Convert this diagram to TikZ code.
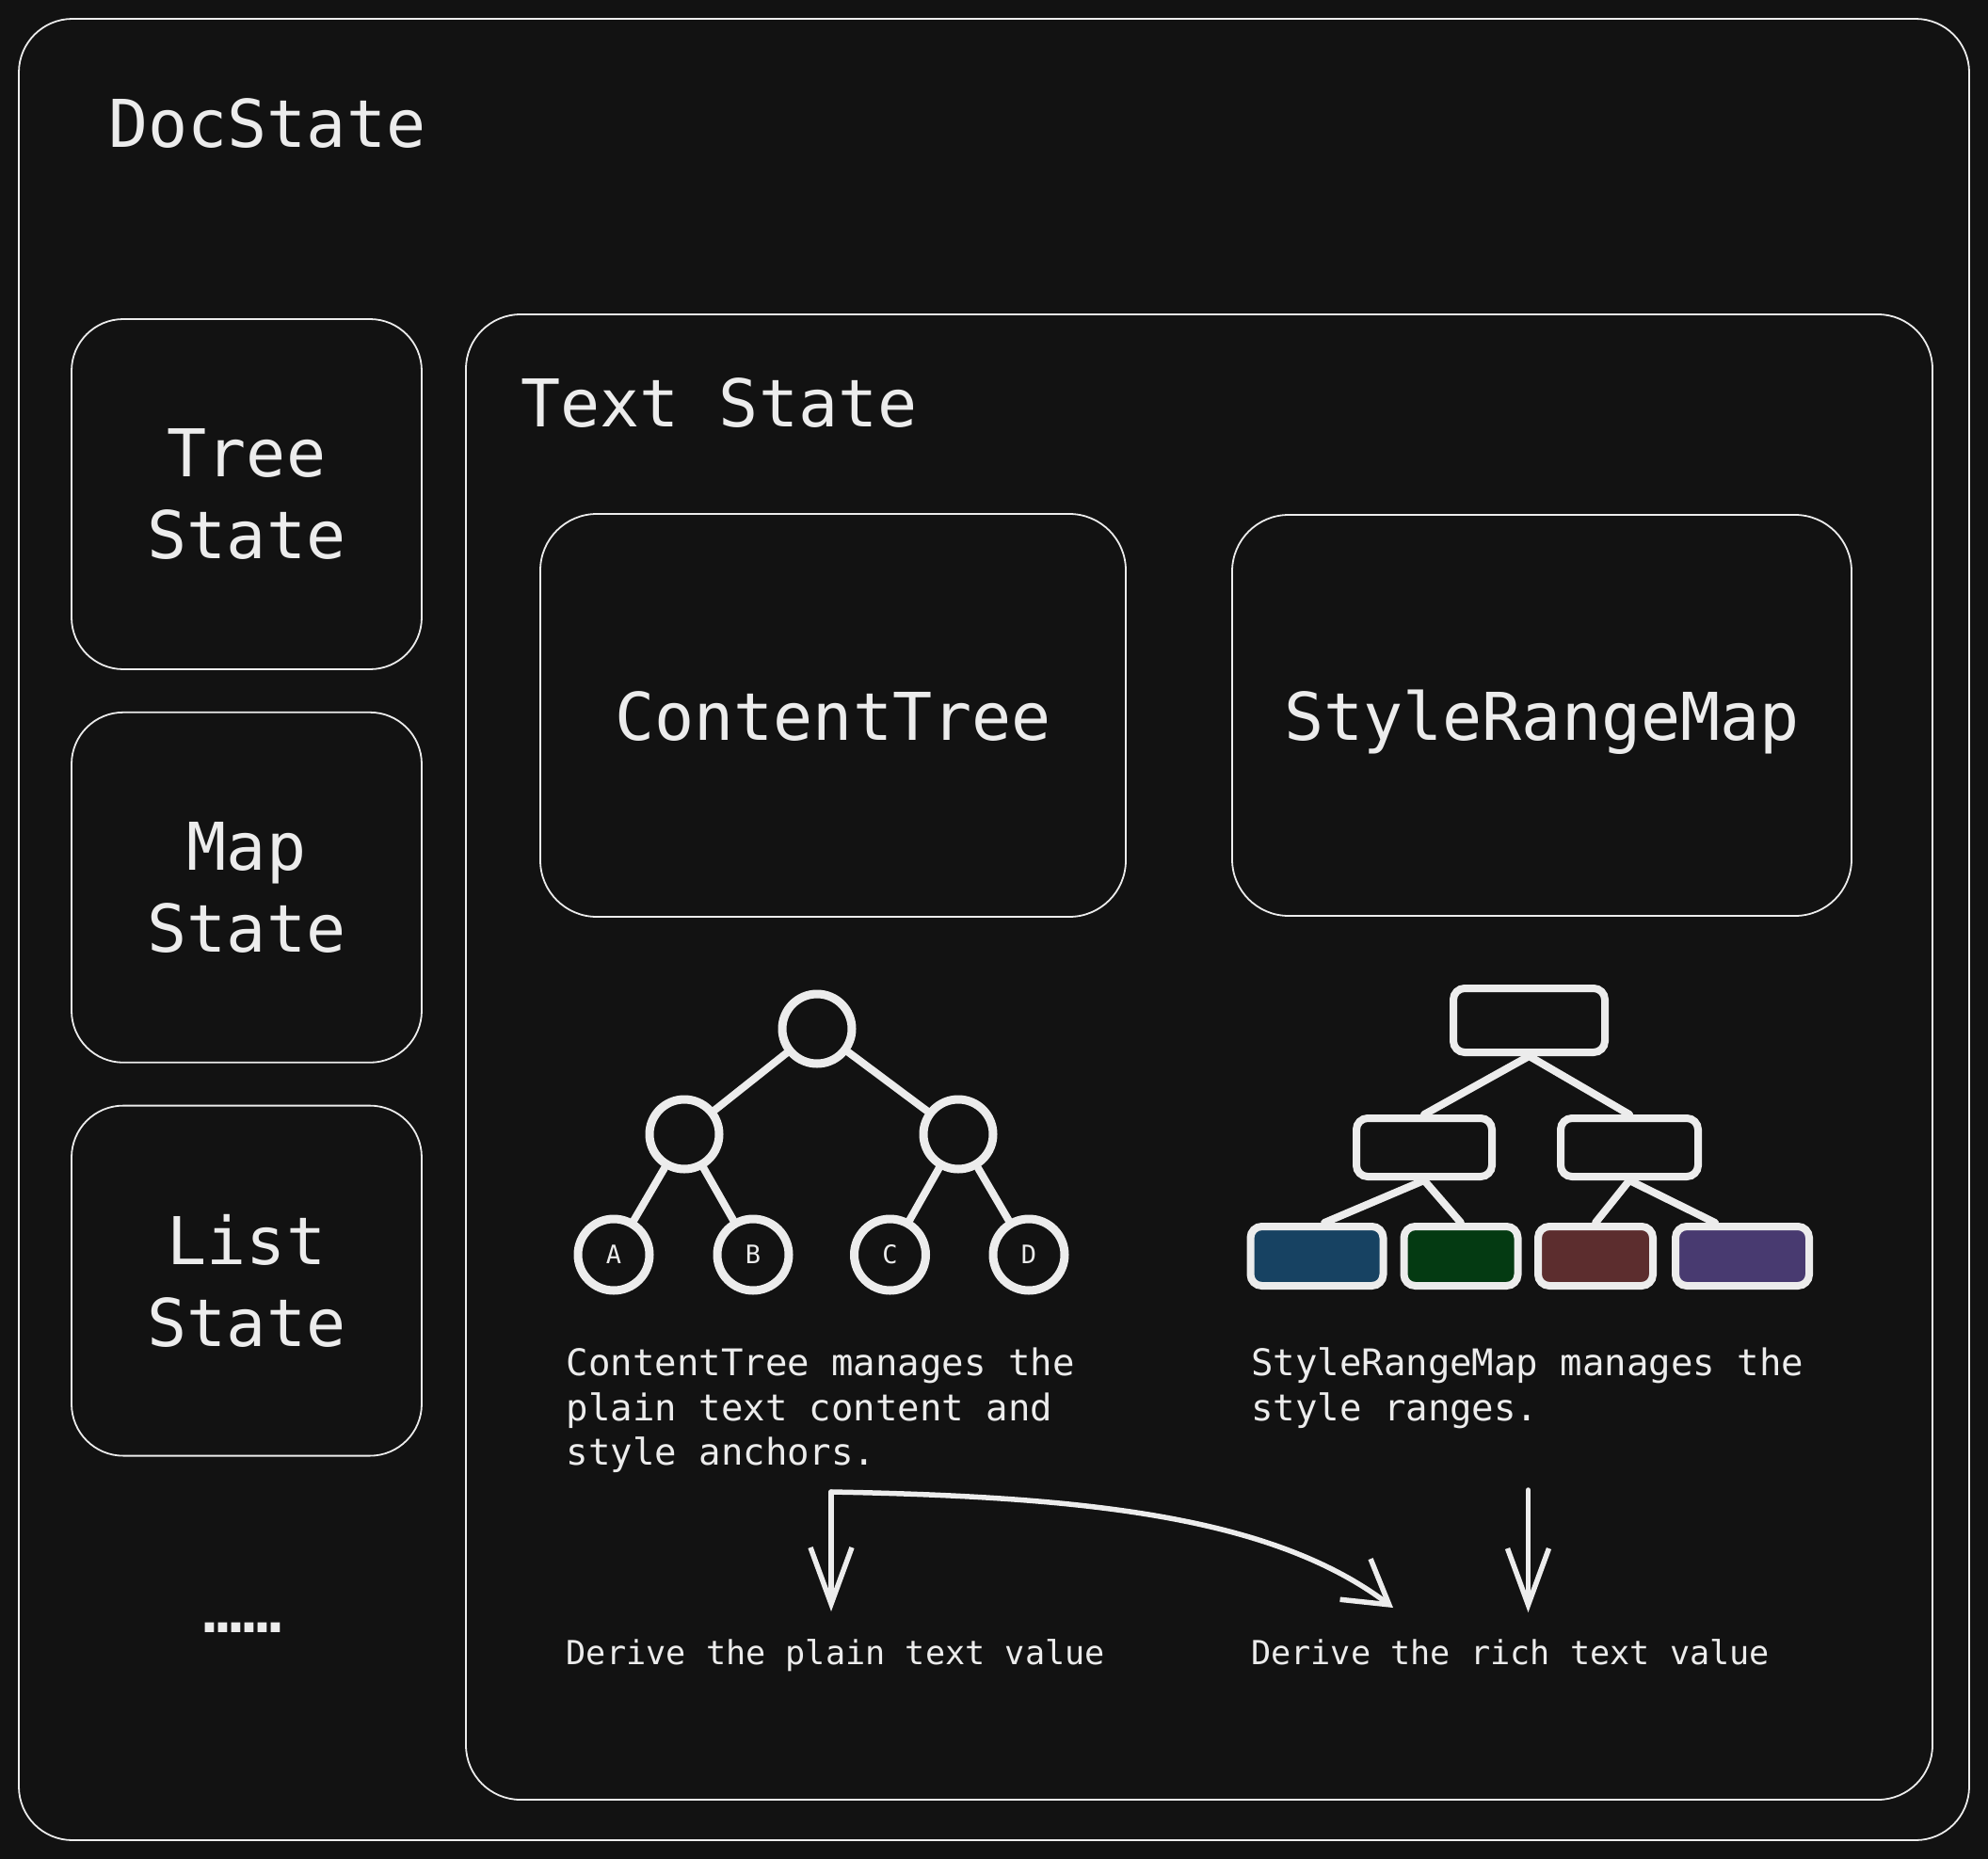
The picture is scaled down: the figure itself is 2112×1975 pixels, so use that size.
\documentclass[tikz,border=0pt]{standalone}
\usepackage{fontspec}
\setmonofont{DejaVu Sans Mono}
\setsansfont{DejaVu Sans}
\newfontfamily\dotfont{DejaVu Sans}[LetterSpace=-12.5]
\usepackage{tikz}
\usetikzlibrary{positioning,arrows.meta}
\definecolor{c_bg}{HTML}{121212}
\definecolor{c_ink}{HTML}{ECECEC}
\definecolor{c_blue}{HTML}{174262}
\definecolor{c_green}{HTML}{043A12}
\definecolor{c_brown}{HTML}{5C2D2E}
\definecolor{c_purple}{HTML}{483A70}
\newcommand{\bigfont}{\ttfamily\fontsize{70}{87}\selectfont}
\newcommand{\notefont}{\ttfamily\fontsize{39}{47.5}\selectfont}
\newcommand{\derivefont}{\ttfamily\fontsize{35.2}{44}\selectfont}
\newcommand{\leaffont}{\ttfamily\fontsize{27}{30}\selectfont}
\tikzset{outline-box/.style={rectangle, draw=c_ink, line width=1.8pt, rounded corners=57pt, inner sep=0pt},
state-box/.style={outline-box, rounded corners=55pt, minimum width=372pt, minimum height=372pt, align=center, font=\bigfont, text=c_ink},
part-box/.style={outline-box, rounded corners=60pt, minimum height=428pt, font=\bigfont, text=c_ink, text height=52pt, text depth=0pt},
caption/.style={anchor=base west, inner sep=0pt, text=c_ink},
note/.style={caption, font=\notefont, align=left},
tree-dot/.style={circle, draw=c_ink, line width=9pt, minimum size=74pt, inner sep=0pt, font=\leaffont, text=c_ink},
tree-box/.style={rectangle, draw=c_ink, line width=8pt, rounded corners=12pt, minimum height=62pt, inner sep=0pt, fill=c_bg},
tree-edge/.style={draw=c_ink, line width=8pt, line cap=round},
arrow/.style={draw=c_ink, line width=5.5pt, line cap=round, line join=round, -{Straight Barb[length=60pt, width=44pt]}}}

\begin{document}
\begin{tikzpicture}[x=1pt, y=-1pt]
\fill [c_bg] (0,0) rectangle (2112,1975);
\useasboundingbox (0,0) rectangle (2112,1975);
% containers
\node (docstate) [outline-box, minimum width=2072pt, minimum height=1935pt] at (1056,987.5) {};
\node (doclabel) [caption, font=\bigfont] at (115,156) {DocState};
\node (textstate) [outline-box, rounded corners=58pt, minimum width=1558pt, minimum height=1578pt] at (1274,1123) {};
\node (textlabel) [caption, font=\bigfont] at (553,453) {Text State};
% left column
\node (tree) [state-box] at (262,525) {Tree\\State};
\node (map) [state-box, below=44pt of tree] {Map\\State};
\node (list) [state-box, below=44pt of map] {List\\State};
\node (more) [anchor=base, inner sep=0pt, text=c_ink, font=\dotfont\bfseries\fontsize{55}{60}\selectfont] at (258,1734) {......};
% parts of the text state
\node (content) [part-box, minimum width=622pt] at (885,760) {ContentTree};
\node (stylemap) [part-box, minimum width=658pt, minimum height=426pt] at (1638,760) {StyleRangeMap};

% content tree sketch
\node (root) [tree-dot] at (868,1093) {};
\node (midl) [tree-dot] at (727,1205) {};
\node (midr) [tree-dot] at (1018,1205) {};
\node (leafa) [tree-dot, minimum size=76pt] at (652,1333) {A};
\node (leafb) [tree-dot, minimum size=76pt] at (800,1333) {B};
\node (leafc) [tree-dot, minimum size=76pt] at (945.5,1333) {C};
\node (leafd) [tree-dot, minimum size=76pt] at (1093,1333) {D};
\draw [tree-edge] (root) -- (midl);
\draw [tree-edge] (root) -- (midr);
\draw [tree-edge] (midl) -- (leafa);
\draw [tree-edge] (midl) -- (leafb);
\draw [tree-edge] (midr) -- (leafc);
\draw [tree-edge] (midr) -- (leafd);

% style range map sketch
\node (rtop) [tree-box, minimum width=161pt, minimum height=68pt] at (1624.5,1084) {};
\node (rmidl) [tree-box, minimum width=144pt] at (1513,1219) {};
\node (rmidr) [tree-box, minimum width=146pt] at (1731,1219) {};
\node (rblue) [tree-box, minimum width=141pt, minimum height=63pt, fill=c_blue] at (1399,1334.5) {};
\node (rgreen) [tree-box, minimum width=121pt, minimum height=63pt, fill=c_green] at (1552,1334.5) {};
\node (rbrown) [tree-box, minimum width=122pt, minimum height=63pt, fill=c_brown] at (1695,1334.5) {};
\node (rpurple) [tree-box, minimum width=142pt, minimum height=63pt, fill=c_purple] at (1851,1334.5) {};
\draw [tree-edge] (rtop.south) -- (rmidl.north);
\draw [tree-edge] (rtop.south) -- (rmidr.north);
\draw [tree-edge] (rmidl.south) -- ([xshift=8pt]rblue.north);
\draw [tree-edge] (rmidl.south) -- (rgreen.north);
\draw [tree-edge] (rmidr.south) -- (rbrown.north);
\draw [tree-edge] (rmidr.south) -- ([xshift=-29pt]rpurple.north);

% notes (base is the last line)
\node (treenote) [note] at (601.5,1556.7) {ContentTree manages the\\plain text content and\\style anchors.};
\node (mapnote) [note] at (1329,1509.2) {StyleRangeMap manages the\\style ranges.};
\node (plainval) [caption, font=\derivefont] at (601.5,1768) {Derive the plain text value};
\node (richval) [caption, font=\derivefont] at (1329,1768) {Derive the rich text value};

% derive arrows
\coordinate (fork) at (883,1585);
\coordinate (plaintip) at (883,1712);
\coordinate (richtip) at (1480,1708);
\coordinate (mapfork) at (1623.5,1583);
\coordinate (maptip) at (1623.5,1713);
\draw [arrow] (fork) -- (plaintip);
\draw [arrow, -{Straight Barb[length=45pt, width=54pt]}] (fork) .. controls (1150,1590) and (1350,1610) .. (richtip);
\draw [arrow] (mapfork) -- (maptip);
\end{tikzpicture}
\end{document}
